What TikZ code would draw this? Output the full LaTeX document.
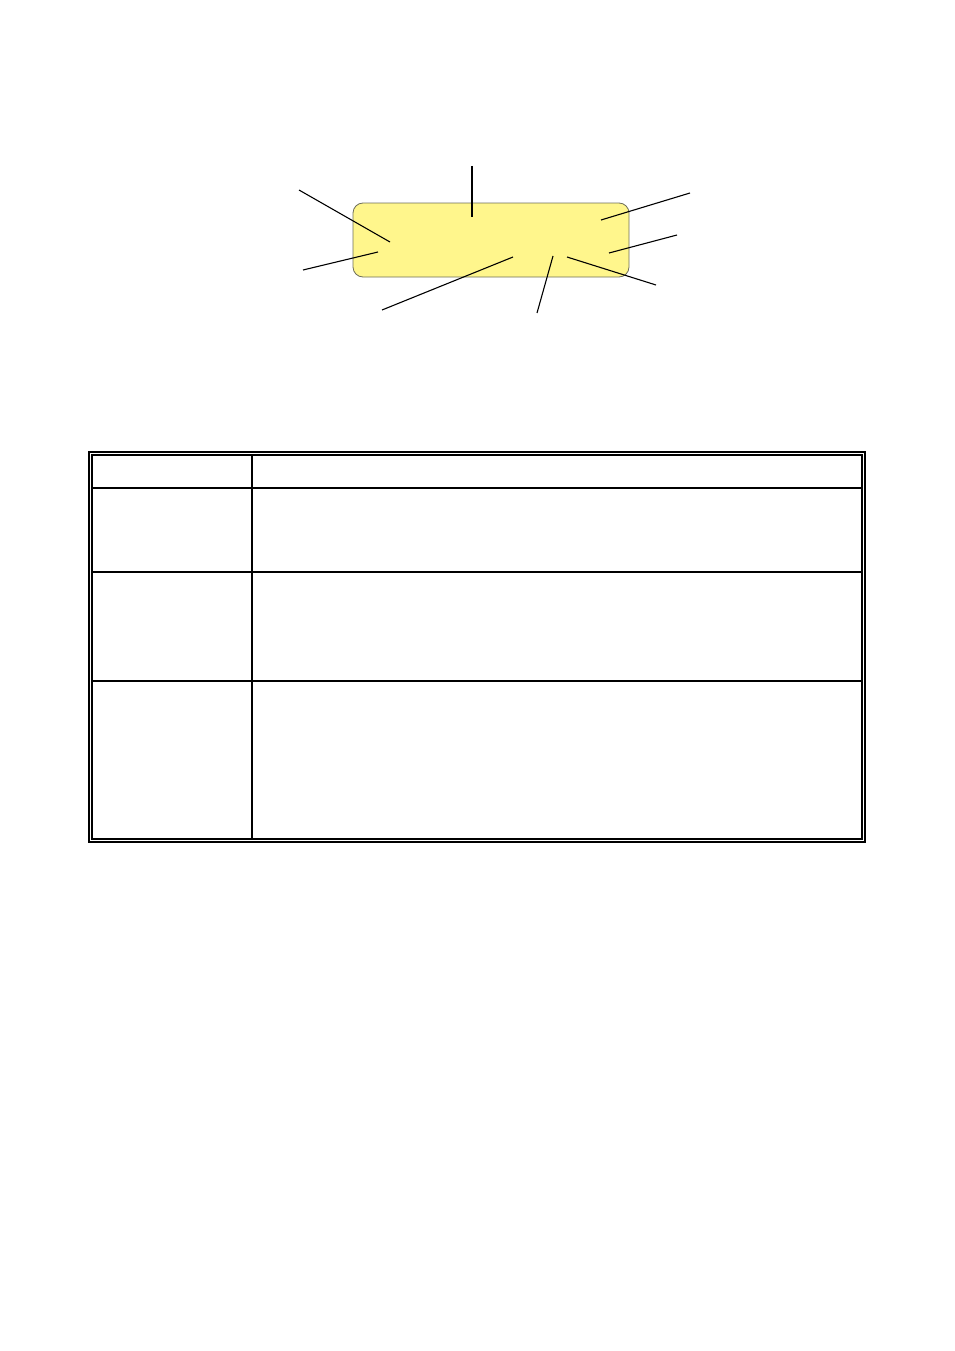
\documentclass[tikz,border=0pt]{standalone}
\begin{document}
\begin{tikzpicture}[x=1pt,y=-1pt,
  leader/.style={line width=1.1pt,black},
  tline/.style={line width=1.1pt,black}]
\useasboundingbox (0,0) rectangle (954,1351);
\definecolor{boxfill}{RGB}{255,246,140}
\definecolor{boxline}{RGB}{110,110,90}
% yellow box
\node[draw=boxline,fill=boxfill,rounded corners=10pt,line width=0.8pt,
  minimum width=276pt,minimum height=74pt,inner sep=0pt] (box) at (491,240) {};
% leader lines
\coordinate (a1) at (472,166); \coordinate (b1) at (472,217);
\coordinate (a2) at (299,190); \coordinate (b2) at (390,242);
\coordinate (a3) at (303,270); \coordinate (b3) at (378,252);
\coordinate (a4) at (382,310); \coordinate (b4) at (513,257);
\coordinate (a5) at (537,313); \coordinate (b5) at (553,256);
\coordinate (a6) at (656,285); \coordinate (b6) at (567,257);
\coordinate (a7) at (677,235); \coordinate (b7) at (609,253);
\coordinate (a8) at (690,193); \coordinate (b8) at (601,220);
\foreach \i in {1,...,8} \draw[leader] (a\i) -- (b\i);
% table
\draw[tline] (89,452) rectangle (865,842);
\draw[tline] (92,455) rectangle (862,839);
\draw[tline] (252,455) -- (252,839);
\draw[tline] (92,488) -- (862,488);
\draw[tline] (92,572) -- (862,572);
\draw[tline] (92,681) -- (862,681);
\end{tikzpicture}
\end{document}
